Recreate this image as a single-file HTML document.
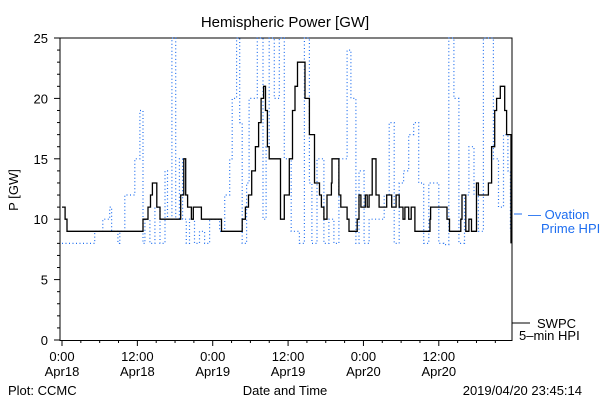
<!DOCTYPE html>
<html><head><meta charset="utf-8"><style>
body{margin:0;background:#fff}
svg{font-family:"Liberation Sans",sans-serif;font-size:13px}
</style></head><body>
<svg width="600" height="400">
<rect width="600" height="400" fill="#fff"/>
<text x="285" y="27" text-anchor="middle" font-size="15">Hemispheric Power [GW]</text>
<text transform="translate(18,190) rotate(-90)" text-anchor="middle">P [GW]</text>
<g id="axes"></g>
<g id="series"></g>
<line x1="514" y1="214" x2="522" y2="214" stroke="#1e6ef0"/>
<text x="528" y="219" fill="#1e6ef0">— Ovation</text>
<text x="541" y="233" fill="#1e6ef0">Prime HPI</text>
<line x1="512" y1="323" x2="530" y2="323" stroke="#000"/>
<text x="537" y="328">SWPC</text>
<text x="519" y="340">5–min HPI</text>
<text x="8" y="395">Plot: CCMC</text>
<text x="285" y="395" text-anchor="middle">Date and Time</text>
<text x="582" y="395" text-anchor="end">2019/04/20 23:45:14</text>
</svg>
<script>
const yTicks=[0,5,10,15,20,25];
const xTickHours=[0,12,24,36,48,60];
const xTickTimes=["0:00","12:00","0:00","12:00","0:00","12:00"];
const xTickDates=["Apr18","Apr18","Apr19","Apr19","Apr20","Apr20"];
const swpcHours=[0,0.5,0.8,12.4,12.9,13.7,14.1,14.4,15.1,15.6,18.4,18.9,19.4,19.7,20,20.6,20.9,22.2,25.4,28.4,28.7,29.2,29.7,30.2,30.8,31.3,31.7,32.1,32.4,32.7,33,34.8,35.4,36.2,36.7,37.1,37.5,38.1,38.7,39.4,40.2,41,41.3,41.7,42.2,42.9,43,43.8,44.1,44.4,45.4,45.7,46.7,47,47.3,47.6,48.3,48.6,48.9,49.4,50,50.5,51.4,51.7,52.5,53.2,53.7,54.3,54.6,55.2,55.6,56.2,58.4,58.6,58.7,61.2,61.3,61.7,63.2,63.5,63.7,64.3,64.8,65.2,66,66.3,67.6,67.9,68.4,68.9,69.2,69.8,70.5,70.8,71.4,71.5];
const swpcValues=[11,10,9,9,10,11,12,13,11,10,10,12,15,12,11,10,11,10,9,9,10,11,12,14,16,18,20,21,19,16,15,10,12,15,19,21,23,23,20,17,13,12,11,10,12,13,15,15,12,11,10,9,9,10,12,11,12,11,12,15,12,11,11,12,11,12,11,10,11,10,11,9,9,10,11,11,10,9,9,10,12,9,10,9,13,12,12,13,16,19,20,21,19,17,17,8];
const ovHours=[0,4.9,5.2,6.5,7.6,7.9,8.9,9.2,10,10.8,11.6,12.4,12.9,13.2,14,14.8,15.6,16.4,16.8,17.5,18.1,18.7,19.2,19.8,20.3,21.1,21.9,22.7,23.5,25.1,25.9,26.7,27.1,27.8,28.3,28.7,29.4,29.8,31.1,32,32.5,33,33.8,34.6,35.4,36.5,37.8,38.6,39.4,39.8,40.6,41.7,42.5,43.3,44.1,45.4,46,46.8,47.3,48.1,48.9,51.3,52.1,52.9,53.7,54.4,55.2,56,56.8,57.6,58.4,60,60.8,61.6,62.4,63.2,64.1,64.8,65.6,66.3,67.1,67.9,68.7,69.5,70.3,71,71.4];
const ovValues=[8,8,9,10,11,9,8,9,12,12,15,19,8,10,8,11,8,14,10,25,10,15,10,8,10,8,9,8,10,9,12,15,20,25,18,8,13,20,25,10,16,25,20,25,15,9,8,25,13,8,15,8,10,8,15,24,20,8,14,8,10,12,18,8,13,14,17,18,13,8,13,8,7.9,25,20,8,12,16,12,9,25,25,15,11,17,14,9];
const X0=62,PXH=6.28,Y0=340,PXG=12.08,L=60,R=512,T=38;
const xs=h=>X0+h*PXH, ys=v=>Y0-v*PXG;
const NS="http://www.w3.org/2000/svg";
function mk(p,t,a){const e=document.createElementNS(NS,t);for(const k in a)e.setAttribute(k,a[k]);p.appendChild(e);return e;}
const ax=document.getElementById('axes');
const frame=mk(ax,'rect',{x:L,y:T,width:R-L,height:Y0-T+0.5,fill:'none',stroke:'#000'});


for(let v=0;v<=25;v+=1){const y=ys(v);const big=v%5===0;mk(ax,'line',{x1:L,x2:L-(big?6:3),y1:y,y2:y,stroke:'#000'});}
yTicks.forEach(v=>{const t=mk(ax,'text',{x:48,y:ys(v)+5,'text-anchor':'end'});t.textContent=v;

});
for(let h=0;h<=71;h+=3){const x=xs(h);mk(ax,'line',{x1:x,x2:x,y1:Y0,y2:Y0+(h%12===0?6:3),stroke:'#000'});}
xTickHours.forEach((h,i)=>{const a=mk(ax,'text',{x:xs(h),y:361,'text-anchor':'middle'});a.textContent=xTickTimes[i];


const b=mk(ax,'text',{x:xs(h),y:376,'text-anchor':'middle'});b.textContent=xTickDates[i];

});
function step(hs,vs){let d='';hs.forEach((h,i)=>{const x=xs(h).toFixed(1),y=ys(vs[i]).toFixed(1);if(i===0)d+='M'+x+','+y;else{d+='H'+x+'V'+y;}});return d;}
const sg=document.getElementById('series');
const ov=mk(sg,'path',{d:step(ovHours,ovValues),fill:'none',stroke:'#1e6ef0','stroke-width':1.2,'stroke-dasharray':'1 2.5'});


const sw=mk(sg,'path',{d:step(swpcHours,swpcValues),fill:'none',stroke:'#000','stroke-width':1.3});


</script>
</body></html>
